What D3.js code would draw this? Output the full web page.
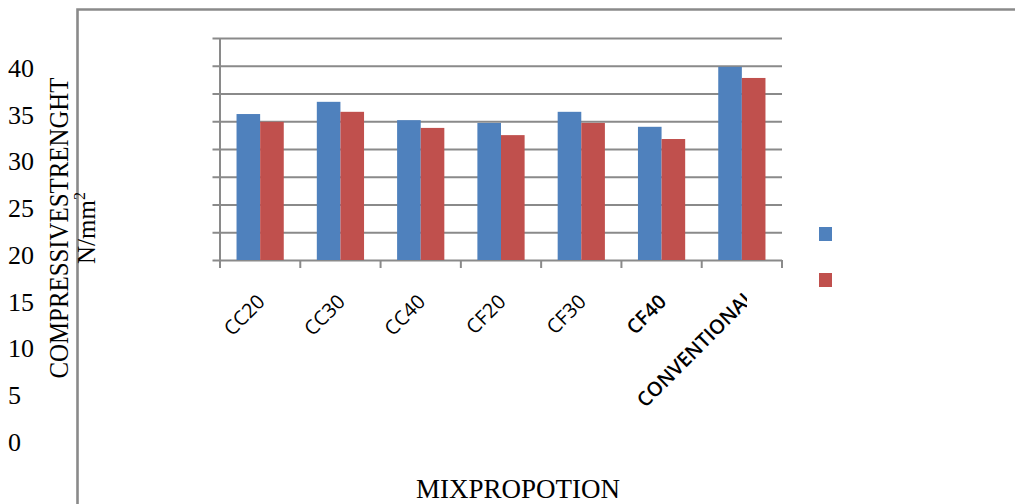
<!DOCTYPE html>
<html>
<head>
<meta charset="utf-8">
<script src="https://cdn.jsdelivr.net/npm/d3@7"></script>
<style>
  html, body { margin: 0; padding: 0; background: #fff; }
  svg { display: block; }
</style>
</head>
<body>
<script>
// Mix proportions on the category axis
const categories = ["CC20", "CC30", "CC40", "CF20", "CF30", "CF40", "CONVENTIONAL"];
// Two series of compressive strength (N/mm²)
const seriesKeys = ["Series 1", "Series 2"];
const seriesA = [26.3, 28.5, 25.2, 24.7, 26.7, 24.0, 34.8];
const seriesB = [24.9, 26.7, 23.8, 22.5, 24.7, 21.8, 32.8];
// Value labels printed in the left column
const valueTicks = [0, 5, 10, 15, 20, 25, 30, 35, 40];
// Categories whose labels are printed heavier
const boldLabels = ["CF40", "CONVENTIONAL"];

const W = 1015, H = 504;
const colors = ["#4F81BD", "#C0504D"];
const gridColor = "#8a8a8a";
const serif = "'Liberation Serif', 'Times New Roman', serif";

const svg = d3.select("body").append("svg")
  .attr("width", W).attr("height", H);

// Outer frame (top and left edges)
svg.append("path")
  .attr("d", "M77.5,504 V9.5 H1015")
  .attr("fill", "none")
  .attr("stroke", gridColor)
  .attr("stroke-width", 2.6);

// Plot area
const plot = { left: 220, right: 782, top: 38, bottom: 260 };

const x0 = d3.scaleBand().domain(categories)
  .range([plot.left, plot.right]).paddingInner(0).paddingOuter(0);
const x1 = d3.scaleBand().domain(seriesKeys)
  .range([0, x0.bandwidth()]).paddingInner(0).paddingOuter(0.7);
const y = d3.scaleLinear().domain([0, 40]).range([plot.bottom, plot.top]);

// Horizontal gridlines with left tick marks
svg.append("g")
  .attr("transform", `translate(${plot.left},0)`)
  .call(d3.axisLeft(y).tickValues(valueTicks)
    .tickSize(-(plot.right - plot.left)).tickSizeOuter(0).tickFormat(""))
  .call(g => g.select(".domain").remove())
  .call(g => g.selectAll(".tick line")
    .attr("x1", -7.5)
    .attr("stroke", gridColor).attr("stroke-width", 2));

// Vertical axis line
svg.append("line")
  .attr("x1", plot.left).attr("x2", plot.left)
  .attr("y1", plot.top).attr("y2", plot.bottom + 8)
  .attr("stroke", gridColor).attr("stroke-width", 2);

// Category boundary ticks below the baseline
const bounds = categories.map(c => x0(c)).concat([plot.right]);
svg.append("g").selectAll("line").data(bounds).join("line")
  .attr("x1", d => d).attr("x2", d => d)
  .attr("y1", plot.bottom).attr("y2", plot.bottom + 8)
  .attr("stroke", gridColor).attr("stroke-width", 2);

// Bars
const rows = categories.map((c, i) => ({ cat: c, vals: [seriesA[i], seriesB[i]] }));
svg.append("g").selectAll("g").data(rows).join("g")
  .attr("transform", d => `translate(${x0(d.cat)},0)`)
  .selectAll("rect")
  .data(d => d.vals.map((v, j) => ({ key: seriesKeys[j], v, j })))
  .join("rect")
  .attr("x", d => x1(d.key))
  .attr("width", x1.bandwidth())
  .attr("y", d => y(d.v))
  .attr("height", d => y(0) - y(d.v))
  .attr("fill", d => colors[d.j]);

// Left column of value labels
const labelScale = d3.scaleLinear().domain([0, 40]).range([450.5, 76.3]);
svg.append("g")
  .attr("transform", "translate(8,0)")
  .call(d3.axisLeft(labelScale).tickValues(valueTicks).tickSize(0).tickPadding(0))
  .call(g => g.select(".domain").remove())
  .call(g => g.selectAll("text")
    .attr("x", 0).attr("dy", 0)
    .attr("text-anchor", "start")
    .attr("fill", "#000")
    .style("font-family", serif)
    .style("font-size", "26px"));

// Rotated category labels; the long last one is cut at the edge of its slot
svg.append("clipPath").attr("id", "catclip")
  .append("rect").attr("x", 0).attr("y", 0).attr("width", 747).attr("height", H);

svg.append("g").selectAll("g").data(categories).join("g")
  .attr("clip-path", d => d === "CONVENTIONAL" ? "url(#catclip)" : null)
  .append("text")
  .attr("transform", d => {
    const cx = x0(d) + x0.bandwidth() / 2;
    return d === "CONVENTIONAL"
      ? `translate(${cx + 14},${298}) rotate(-45)`
      : `translate(${cx + 6},${303}) rotate(-45)`;
  })
  .attr("text-anchor", "end")
  .style("font-family", "'Open Sans', 'Noto Sans', sans-serif")
  .style("font-size", "20px")
  .style("font-weight", d => boldLabels.includes(d) ? "600" : "400")
  .attr("fill", "#000")
  .text(d => d);

// Axis titles
svg.append("text")
  .attr("transform", "translate(68,228) rotate(-90)")
  .attr("text-anchor", "middle")
  .style("font-family", serif)
  .style("font-size", "27px")
  .attr("fill", "#000")
  .append("tspan")
  .attr("textLength", 301).attr("lengthAdjust", "spacingAndGlyphs")
  .text("COMPRESSIVESTRENGHT");

const unit = svg.append("text")
  .attr("transform", "translate(95,228) rotate(-90)")
  .attr("text-anchor", "middle")
  .style("font-family", serif)
  .style("font-size", "25px")
  .attr("fill", "#000");
unit.append("tspan").text("N/mm");
unit.append("tspan").attr("dy", -10).style("font-size", "16px").text("2");

svg.append("text")
  .attr("x", 518).attr("y", 498)
  .attr("text-anchor", "middle")
  .style("font-family", serif)
  .style("font-size", "27px")
  .attr("fill", "#000")
  .text("MIXPROPOTION");

// Legend swatches (entries carry no text)
svg.append("g").selectAll("rect").data(seriesKeys).join("rect")
  .attr("x", 819)
  .attr("y", (d, i) => 227 + i * 46)
  .attr("width", 13).attr("height", 14)
  .attr("fill", (d, i) => colors[i]);
</script>
</body>
</html>
